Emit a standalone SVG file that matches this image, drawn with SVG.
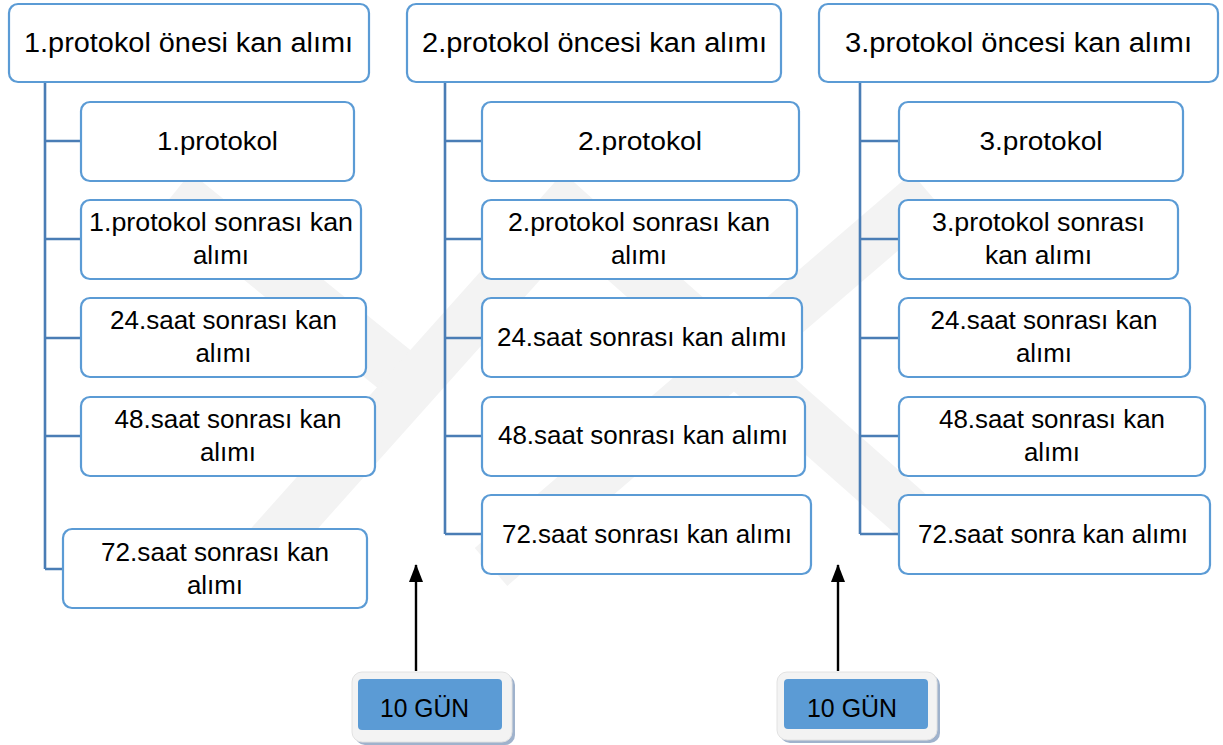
<svg xmlns="http://www.w3.org/2000/svg" width="1223" height="745" viewBox="0 0 1223 745">
<style>
.bg{fill:#ffffff}
.wm{stroke:#f3f3f3;stroke-width:50;fill:none;stroke-linecap:butt}
.box{fill:#ffffff;stroke:#5b9bd5;stroke-width:2.2}
.conn{stroke:#4a7db5;stroke-width:2.6;fill:none}
.t{font-family:"Liberation Sans",Arial,sans-serif;font-size:26px;fill:#000;text-anchor:middle}
.h{font-size:27px}
.arrow{stroke:#000;stroke-width:2.4;fill:none}
.gunOut{fill:#f3f3f3;stroke:#e2e2e2;stroke-width:1}
.gunSh{fill:#9fb2cc}
.gunIn{fill:#5b9bd5}
.g{font-family:"Liberation Sans",Arial,sans-serif;font-size:25px;fill:#000}
</style>
<defs>
<marker id="ah" markerWidth="18" markerHeight="14" refX="17" refY="7" orient="auto" markerUnits="userSpaceOnUse" viewBox="0 0 18 14">
<path d="M0,0 L18,7 L0,14 Z" fill="#000"/>
</marker>
</defs>
<rect class="bg" x="0" y="0" width="1223" height="745"/>
<g id="watermark">
<line class="wm" x1="175" y1="192" x2="420" y2="390"/>
<line class="wm" x1="585" y1="192" x2="250" y2="567"/>
<line class="wm" x1="546" y1="192" x2="940" y2="540"/>
<line class="wm" x1="928" y1="192" x2="491" y2="567"/>
</g>
<g id="connectors">
<path class="conn" d="M45,82 V569 M45,141 H81 M45,239 H81 M45,338 H81 M45,436 H81 M45,569 H63"/>
<path class="conn" d="M445,82 V534 M445,141 H482 M445,239 H482 M445,338 H482 M445,436 H482 M445,534 H482"/>
<path class="conn" d="M860,82 V534 M860,141 H899 M860,239 H899 M860,338 H899 M860,436 H899 M860,534 H899"/>
<line class="arrow" x1="416" y1="671" x2="416" y2="565" marker-end="url(#ah)"/>
<line class="arrow" x1="838" y1="671" x2="838" y2="565" marker-end="url(#ah)"/>
</g>
<g id="h1"><rect class="box" x="9" y="4" width="360" height="78" rx="9"/><text class="t h" x="188.5" y="52" textLength="329" lengthAdjust="spacingAndGlyphs">1.protokol önesi kan alımı</text></g>
<g id="h2"><rect class="box" x="407" y="4" width="374" height="78" rx="9"/><text class="t h" x="594.5" y="52" textLength="345" lengthAdjust="spacingAndGlyphs">2.protokol öncesi kan alımı</text></g>
<g id="h3"><rect class="box" x="819" y="4" width="399" height="78" rx="9"/><text class="t h" x="1018.5" y="52" textLength="347" lengthAdjust="spacingAndGlyphs">3.protokol öncesi kan alımı</text></g>

<g id="c1a"><rect class="box" x="81" y="102" width="273" height="79" rx="9"/><text class="t" x="217.5" y="149.5" textLength="121" lengthAdjust="spacingAndGlyphs">1.protokol</text></g>
<g id="c1b"><rect class="box" x="81" y="200" width="280" height="79" rx="9"/><text class="t" x="221" y="231" textLength="264" lengthAdjust="spacingAndGlyphs">1.protokol sonrası kan</text><text class="t" x="221" y="264" textLength="56" lengthAdjust="spacingAndGlyphs">alımı</text></g>
<g id="c1c"><rect class="box" x="81" y="298" width="285" height="79" rx="9"/><text class="t" x="223.5" y="329" textLength="227" lengthAdjust="spacingAndGlyphs">24.saat sonrası kan</text><text class="t" x="223.5" y="362" textLength="56" lengthAdjust="spacingAndGlyphs">alımı</text></g>
<g id="c1d"><rect class="box" x="81" y="397" width="294" height="79" rx="9"/><text class="t" x="228" y="427.5" textLength="227" lengthAdjust="spacingAndGlyphs">48.saat sonrası kan</text><text class="t" x="228" y="460.5" textLength="56" lengthAdjust="spacingAndGlyphs">alımı</text></g>
<g id="c1e"><rect class="box" x="63" y="529" width="304" height="79" rx="9"/><text class="t" x="215" y="560.5" textLength="228" lengthAdjust="spacingAndGlyphs">72.saat sonrası kan</text><text class="t" x="215" y="593.5" textLength="56" lengthAdjust="spacingAndGlyphs">alımı</text></g>

<g id="c2a"><rect class="box" x="482" y="102" width="317" height="79" rx="9"/><text class="t" x="640" y="149.5" textLength="124" lengthAdjust="spacingAndGlyphs">2.protokol</text></g>
<g id="c2b"><rect class="box" x="482" y="200" width="315" height="79" rx="9"/><text class="t" x="639" y="231" textLength="262" lengthAdjust="spacingAndGlyphs">2.protokol sonrası kan</text><text class="t" x="639" y="264" textLength="56" lengthAdjust="spacingAndGlyphs">alımı</text></g>
<g id="c2c"><rect class="box" x="482" y="298" width="320" height="79" rx="9"/><text class="t" x="642" y="345.5" textLength="290" lengthAdjust="spacingAndGlyphs">24.saat sonrası kan alımı</text></g>
<g id="c2d"><rect class="box" x="482" y="397" width="323" height="79" rx="9"/><text class="t" x="643" y="444" textLength="290" lengthAdjust="spacingAndGlyphs">48.saat sonrası kan alımı</text></g>
<g id="c2e"><rect class="box" x="482" y="495" width="329" height="79" rx="9"/><text class="t" x="647" y="542.5" textLength="290" lengthAdjust="spacingAndGlyphs">72.saat sonrası kan alımı</text></g>

<g id="c3a"><rect class="box" x="899" y="102" width="284" height="79" rx="9"/><text class="t" x="1041" y="149.5" textLength="123" lengthAdjust="spacingAndGlyphs">3.protokol</text></g>
<g id="c3b"><rect class="box" x="899" y="200" width="279" height="79" rx="9"/><text class="t" x="1038.5" y="231" textLength="213" lengthAdjust="spacingAndGlyphs">3.protokol sonrası</text><text class="t" x="1038.5" y="264" textLength="107" lengthAdjust="spacingAndGlyphs">kan alımı</text></g>
<g id="c3c"><rect class="box" x="899" y="298" width="291" height="79" rx="9"/><text class="t" x="1044" y="329" textLength="227" lengthAdjust="spacingAndGlyphs">24.saat sonrası kan</text><text class="t" x="1044" y="362" textLength="56" lengthAdjust="spacingAndGlyphs">alımı</text></g>
<g id="c3d"><rect class="box" x="899" y="397" width="306" height="79" rx="9"/><text class="t" x="1052" y="427.5" textLength="226" lengthAdjust="spacingAndGlyphs">48.saat sonrası kan</text><text class="t" x="1052" y="460.5" textLength="56" lengthAdjust="spacingAndGlyphs">alımı</text></g>
<g id="c3e"><rect class="box" x="899" y="495" width="311" height="79" rx="9"/><text class="t" x="1053" y="542.5" textLength="270" lengthAdjust="spacingAndGlyphs">72.saat sonra kan alımı</text></g>

<g id="gun1"><rect class="gunSh" x="355" y="675" width="160" height="70" rx="10"/><rect class="gunOut" x="352" y="672" width="160" height="70" rx="10"/><rect class="gunIn" x="358" y="679" width="144" height="51" rx="4"/><text class="g" x="380" y="717" textLength="89" lengthAdjust="spacingAndGlyphs">10 GÜN</text></g>
<g id="gun2"><rect class="gunSh" x="780" y="675" width="160" height="68" rx="10"/><rect class="gunOut" x="777" y="672" width="160" height="68" rx="10"/><rect class="gunIn" x="784" y="679" width="144" height="50" rx="4"/><text class="g" x="807" y="717" textLength="90" lengthAdjust="spacingAndGlyphs">10 GÜN</text></g>
</svg>
